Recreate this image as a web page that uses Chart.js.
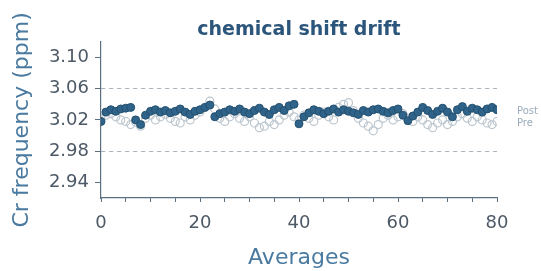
<!DOCTYPE html>
<html>
<head>
<meta charset="utf-8">
<script src="https://cdn.jsdelivr.net/npm/chart.js@4"></script>
<style>
  html, body { margin: 0; padding: 0; background: #fff; }
  #wrap { width: 541px; height: 271px; }
</style>
</head>
<body>
<div id="wrap"><canvas id="chart-drift"></canvas></div>
<script>
// averages 0..80
var averages = [];
for (var i = 0; i <= 80; i++) averages.push(i);

var postValues = [3.018, 3.030, 3.033, 3.031, 3.034, 3.035, 3.036, 3.020, 3.014, 3.026,
  3.031, 3.033, 3.030, 3.032, 3.029, 3.031, 3.034, 3.030, 3.027, 3.031,
  3.033, 3.036, 3.039, 3.024, 3.028, 3.030, 3.033, 3.031, 3.034, 3.030,
  3.028, 3.032, 3.035, 3.030, 3.027, 3.033, 3.036, 3.032, 3.038, 3.040,
  3.015, 3.024, 3.029, 3.033, 3.031, 3.028, 3.031, 3.034, 3.030, 3.033,
  3.031, 3.029, 3.027, 3.032, 3.030, 3.033, 3.034, 3.031, 3.029, 3.032,
  3.034, 3.026, 3.019, 3.025, 3.030, 3.036, 3.032, 3.027, 3.031, 3.035,
  3.030, 3.024, 3.033, 3.037, 3.031, 3.035, 3.033, 3.030, 3.034, 3.036, 3.033];

var preValues = [3.022, 3.026, 3.028, 3.024, 3.020, 3.018, 3.014, 3.017, 3.012, 3.022,
  3.026, 3.020, 3.024, 3.027, 3.022, 3.018, 3.016, 3.024, 3.020, 3.026,
  3.030, 3.036, 3.044, 3.034, 3.022, 3.018, 3.024, 3.028, 3.022, 3.018,
  3.024, 3.016, 3.010, 3.012, 3.018, 3.014, 3.020, 3.026, 3.030, 3.024,
  3.020, 3.026, 3.022, 3.018, 3.026, 3.030, 3.024, 3.020, 3.036, 3.040,
  3.042, 3.032, 3.022, 3.016, 3.012, 3.006, 3.014, 3.022, 3.026, 3.020,
  3.024, 3.028, 3.022, 3.018, 3.024, 3.020, 3.014, 3.010, 3.016, 3.020,
  3.014, 3.018, 3.024, 3.028, 3.022, 3.018, 3.024, 3.020, 3.016, 3.014, 3.018];

var yTicks = [2.94, 2.98, 3.02, 3.06, 3.10];
var refLines = [2.98, 3.06];
var xLabels = [0, 20, 40, 60, 80];

function toPoints(vals) {
  return vals.map(function (v, i) { return { x: averages[i], y: v }; });
}

// legend text at the right edge, no markers
var sideLegend = {
  id: "sideLegend",
  afterDraw: function (chart) {
    var ctx = chart.ctx;
    var y = chart.scales.y;
    ctx.save();
    ctx.font = "10px 'DejaVu Sans'";
    ctx.fillStyle = "#9aabbb";
    ctx.textBaseline = "middle";
    ctx.fillText(chart.data.datasets[0].label, chart.chartArea.right + 20, y.getPixelForValue(3.031));
    ctx.fillText(chart.data.datasets[1].label, chart.chartArea.right + 20, y.getPixelForValue(3.016));
    ctx.restore();
  },
};

var ctx1 = document.getElementById("chart-drift").getContext("2d");
new Chart(ctx1, {
  type: "scatter",
  data: {
    datasets: [
      {
        label: "Post",
        data: toPoints(postValues),
        pointRadius: 4,
        pointBackgroundColor: "#2f6389",
        pointBorderColor: "#24506f",
        pointBorderWidth: 1,
        order: 1,
      },
      {
        label: "Pre",
        data: toPoints(preValues),
        pointRadius: 4,
        pointBackgroundColor: "rgba(255,255,255,0)",
        pointBorderColor: "#bcc6ce",
        pointBorderWidth: 1.2,
        order: 2,
      },
    ],
  },
  options: {
    responsive: true,
    maintainAspectRatio: false,
    animation: false,
    layout: { padding: { top: 0, right: 44, bottom: 0, left: 0 } },
    plugins: {
      legend: { display: false },
      tooltip: { enabled: false },
      title: {
        display: true,
        fullSize: false,
        text: "chemical shift drift",
        color: "#2b557a",
        font: { size: 19, weight: "bold", family: "DejaVu Sans" },
        padding: { top: 19, bottom: 0 },
      },
    },
    scales: {
      x: {
        type: "linear",
        min: 0,
        max: 80,
        afterFit: function (scale) { scale.height = 73; },
        ticks: {
          stepSize: 5,
          autoSkip: false,
          maxRotation: 0,
          padding: 11,
          color: "#4d5966",
          font: { size: 18, family: "DejaVu Sans" },
          callback: function (v) { return xLabels.indexOf(v) >= 0 ? String(v) : ""; },
        },
        grid: {
          drawOnChartArea: false,
          drawTicks: true,
          tickLength: 4,
          tickColor: "#5a6f80",
        },
        border: { color: "#5a6f80", width: 1.2 },
        title: {
          display: true,
          text: "Averages",
          color: "#4a7aa0",
          font: { size: 22, family: "DejaVu Sans" },
          padding: { top: 0, bottom: 0 },
        },
      },
      y: {
        min: 2.92,
        max: 3.12,
        afterBuildTicks: function (scale) {
          scale.ticks = yTicks.map(function (v) { return { value: v }; });
        },
        afterFit: function (scale) { scale.width = 101; },
        ticks: {
          padding: 6,
          color: "#4d5966",
          font: { size: 18, family: "DejaVu Sans" },
          callback: function (v) { return Number(v).toFixed(2); },
        },
        grid: {
          tickLength: 6,
          tickColor: "#5a6f80",
          color: function (c) {
            return c.tick && refLines.indexOf(Math.round(c.tick.value * 100) / 100) >= 0 ? "#a8b2bb" : "rgba(0,0,0,0)";
          },
          lineWidth: 1,
        },
        border: { color: "#5a6f80", width: 1.2, dash: [4, 4] },
        title: {
          display: true,
          text: "Cr frequency (ppm)",
          color: "#4a7aa0",
          font: { size: 22, family: "DejaVu Sans" },
          padding: { top: 9, bottom: 0 },
        },
      },
    },
  },
  plugins: [sideLegend],
});
</script>
</body>
</html>
